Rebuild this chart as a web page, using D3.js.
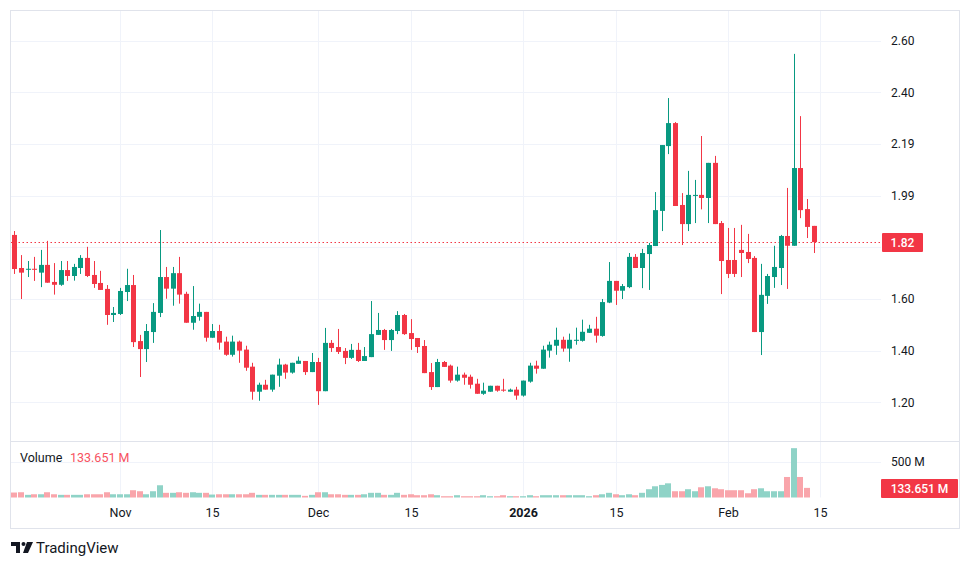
<!DOCTYPE html>
<html>
<head>
<meta charset="utf-8">
<script src="https://cdn.jsdelivr.net/npm/d3@7"></script>
<style>
  body { margin: 0; background: #ffffff; }
  svg { display: block; font-family: Roboto, "Liberation Sans", sans-serif; }
</style>
</head>
<body>
<div id="chart"></div>
<script>
// Daily candles, Oct 16 2025 .. Feb 14 2026
const firstDay = "2025-10-16";
const lastDay = "2026-02-14";

const opens = [1.848,1.720,1.713,1.717,1.702,1.732,1.666,1.655,1.712,1.689,1.720,1.759,1.693,1.662,1.639,1.538,1.542,1.627,1.654,1.437,
  1.406,1.472,1.546,1.685,1.640,1.700,1.620,1.508,1.531,1.550,1.450,1.476,1.435,1.384,1.435,1.404,1.338,1.241,1.268,1.249,
  1.303,1.346,1.315,1.349,1.360,1.317,1.356,1.243,1.430,1.414,1.399,1.372,1.403,1.360,1.375,1.461,1.480,1.441,1.476,1.538,
  1.468,1.449,1.418,1.317,1.259,1.356,1.342,1.284,1.307,1.299,1.272,1.233,1.241,1.264,1.249,1.241,1.249,1.226,1.280,1.342,
  1.330,1.400,1.419,1.442,1.408,1.438,1.438,1.469,1.485,1.457,1.586,1.670,1.632,1.646,1.763,1.720,1.774,1.805,1.941,2.192,
  2.281,1.964,1.890,1.999,2.003,1.991,2.127,1.894,1.751,1.751,1.790,1.782,1.759,1.472,1.612,1.685,1.720,1.844,1.806,2.107,
  1.948,1.883];
const highs = [1.863,1.770,1.747,1.763,1.790,1.825,1.739,1.747,1.747,1.736,1.770,1.802,1.747,1.709,1.654,1.569,1.643,1.717,1.693,1.461,
  1.503,1.584,1.867,1.724,1.724,1.763,1.628,1.650,1.582,1.550,1.503,1.500,1.454,1.458,1.439,1.419,1.353,1.276,1.287,1.307,
  1.369,1.349,1.353,1.377,1.360,1.391,1.372,1.488,1.441,1.484,1.410,1.426,1.430,1.414,1.592,1.546,1.484,1.484,1.553,1.542,
  1.522,1.449,1.441,1.352,1.368,1.360,1.346,1.338,1.315,1.307,1.291,1.276,1.264,1.264,1.291,1.253,1.260,1.284,1.353,1.361,
  1.419,1.435,1.489,1.454,1.466,1.489,1.520,1.500,1.531,1.600,1.743,1.670,1.658,1.778,1.774,1.794,1.817,2.014,2.196,2.378,
  2.285,2.010,2.096,2.061,2.231,2.127,2.154,1.902,1.875,1.875,1.887,1.852,1.766,1.736,1.697,1.806,1.848,2.030,2.549,2.308,
  1.987,1.883];
const lows = [1.697,1.600,1.685,1.670,1.646,1.663,1.617,1.651,1.670,1.671,1.697,1.685,1.643,1.635,1.500,1.511,1.538,1.592,1.414,1.298,
  1.356,1.430,1.530,1.601,1.574,1.582,1.508,1.481,1.516,1.435,1.450,1.404,1.380,1.377,1.353,1.322,1.210,1.206,1.249,1.241,
  1.260,1.291,1.311,1.349,1.306,1.317,1.190,1.243,1.395,1.387,1.348,1.368,1.356,1.360,1.375,1.461,1.403,1.399,1.464,1.461,
  1.403,1.391,1.313,1.248,1.259,1.337,1.276,1.280,1.268,1.253,1.233,1.229,1.241,1.241,1.241,1.241,1.210,1.222,1.276,1.311,
  1.330,1.373,1.384,1.396,1.357,1.423,1.435,1.469,1.431,1.454,1.584,1.577,1.600,1.642,1.720,1.642,1.635,1.805,1.863,2.161,
  1.960,1.809,1.863,1.894,1.947,1.894,1.890,1.619,1.681,1.685,1.685,1.739,1.472,1.383,1.581,1.643,1.654,1.639,1.806,1.913,
  1.836,1.778];
const closes = [1.716,1.702,1.717,1.713,1.732,1.663,1.655,1.712,1.689,1.724,1.759,1.689,1.658,1.635,1.538,1.546,1.631,1.654,1.433,1.406,
  1.476,1.550,1.685,1.640,1.700,1.617,1.508,1.534,1.550,1.450,1.476,1.431,1.384,1.435,1.400,1.334,1.241,1.268,1.249,1.307,
  1.346,1.315,1.353,1.361,1.317,1.356,1.243,1.430,1.410,1.395,1.372,1.403,1.360,1.379,1.464,1.480,1.441,1.480,1.538,1.464,
  1.445,1.414,1.313,1.259,1.356,1.337,1.284,1.307,1.295,1.268,1.233,1.245,1.264,1.245,1.245,1.249,1.226,1.284,1.342,1.330,
  1.404,1.423,1.442,1.408,1.442,1.442,1.473,1.485,1.458,1.588,1.670,1.632,1.650,1.763,1.720,1.778,1.809,1.944,2.196,2.281,
  1.960,1.890,2.003,2.003,1.991,2.127,1.890,1.747,1.697,1.697,1.778,1.755,1.472,1.616,1.689,1.724,1.844,1.806,2.107,1.944,
  1.879,1.820];
// volume in millions (last day has no bar)
const volumes = [69,73,37,45,45,73,45,37,37,37,37,45,45,45,73,45,45,45,101,87,
  45,87,170,65,65,73,65,73,65,65,41,45,45,45,45,45,65,37,37,37,
  37,37,37,37,23,37,73,73,45,45,37,37,37,45,65,65,37,37,65,37,
  45,32,32,45,32,18,18,32,18,18,18,32,18,18,32,18,18,18,32,18,
  32,32,32,32,32,32,32,18,32,45,65,45,32,45,32,65,115,156,175,197,
  87,87,115,87,142,156,128,115,101,101,101,59,115,128,87,87,87,285,685,285,
  133.651,null];

const priceTicks = [1.2, 1.4, 1.6, 1.8, 2.0, 2.2, 2.4, 2.6];
const priceTickLabels = ["1.20", "1.40", "1.60", "1.80", "1.99", "2.19", "2.40", "2.60"];
const volumeTicks = [500];
const volumeTickLabels = ["500 M"];
const timeTicks = ["2025-11-01", "2025-11-15", "2025-12-01", "2025-12-15", "2026-01-01", "2026-01-15", "2026-02-01", "2026-02-15"];
const timeTickLabels = ["Nov", "15", "Dec", "15", "2026", "15", "Feb", "15"];
const lastPrice = 1.82;
const lastPriceLabel = "1.82";
const lastVolume = 133.651;
const lastVolumeLabel = "133.651 M";

// layout
const W = 970, H = 568;
const frame = { left: 10.5, top: 10.5, right: 959.5, bottom: 528.5 };
const plotRight = 881;
const paneSplit = 441;
const volBottom = 497.5;

const up = "#089981", down = "#f23645";
const upVol = "#8fd3c7", downVol = "#f9a5ab";
const grid = "#f0f3fa", border = "#e0e3eb", txt = "#131722";

const parse = d3.utcParse("%Y-%m-%d");
const days = d3.utcDay.range(parse(firstDay), d3.utcDay.offset(parse(lastDay), 1));
const data = days.map((d, i) => ({
  date: d, o: opens[i], h: highs[i], l: lows[i], c: closes[i], v: volumes[i]
}));

const x = d3.scaleUtc()
  .domain([parse(firstDay), parse(lastDay)])
  .range([14.3, 813.7]);
const y = d3.scaleLinear().domain([1.2, 2.6]).range([402.3, 40.7]);
const yVol = d3.scaleLinear().domain([0, 500]).range([volBottom, 461.5]);

const svg = d3.select("#chart").append("svg")
  .attr("width", W).attr("height", H);

svg.append("rect").attr("width", W).attr("height", H).attr("fill", "#ffffff");

// vertical grid through both panes
svg.append("g").selectAll("line")
  .data(timeTicks)
  .join("line")
  .attr("x1", d => Math.round(x(parse(d))) + 0.5)
  .attr("x2", d => Math.round(x(parse(d))) + 0.5)
  .attr("y1", frame.top).attr("y2", volBottom)
  .attr("stroke", grid);

// horizontal price grid
svg.append("g").selectAll("line")
  .data(priceTicks)
  .join("line")
  .attr("x1", frame.left).attr("x2", plotRight)
  .attr("y1", d => Math.round(y(d)) + 0.5)
  .attr("y2", d => Math.round(y(d)) + 0.5)
  .attr("stroke", grid);

// volume grid
svg.append("g").selectAll("line")
  .data(volumeTicks)
  .join("line")
  .attr("x1", frame.left).attr("x2", plotRight)
  .attr("y1", d => Math.round(yVol(d)) + 0.5)
  .attr("y2", d => Math.round(yVol(d)) + 0.5)
  .attr("stroke", grid);

// volume bars
svg.append("g").selectAll("rect")
  .data(data.filter(d => d.v != null))
  .join("rect")
  .attr("x", d => Math.round(x(d.date)) - 3)
  .attr("width", 6)
  .attr("y", d => yVol(d.v))
  .attr("height", d => volBottom - yVol(d.v))
  .attr("fill", d => d.c >= d.o ? upVol : downVol);

// last price dotted line
svg.append("line")
  .attr("x1", frame.left).attr("x2", plotRight)
  .attr("y1", Math.round(y(lastPrice)) + 0.5)
  .attr("y2", Math.round(y(lastPrice)) + 0.5)
  .attr("stroke", down)
  .attr("stroke-dasharray", "1.5,2.5");

// candles
const candles = svg.append("g").selectAll("g")
  .data(data)
  .join("g")
  .attr("fill", d => d.c >= d.o ? up : down);

candles.append("rect")
  .attr("x", d => Math.round(x(d.date)))
  .attr("width", 1)
  .attr("y", d => y(d.h))
  .attr("height", d => Math.max(1, y(d.l) - y(d.h)));

candles.append("rect")
  .attr("x", d => Math.round(x(d.date)) - 2)
  .attr("width", 5)
  .attr("y", d => y(Math.max(d.o, d.c)))
  .attr("height", d => Math.max(1, Math.abs(y(d.o) - y(d.c))));

// pane separator + frame
svg.append("line")
  .attr("x1", frame.left).attr("x2", frame.right)
  .attr("y1", paneSplit + 0.5).attr("y2", paneSplit + 0.5)
  .attr("stroke", border);
svg.append("rect")
  .attr("x", frame.left).attr("y", frame.top)
  .attr("width", frame.right - frame.left)
  .attr("height", frame.bottom - frame.top)
  .attr("fill", "none")
  .attr("stroke", border);

// price axis labels (hide the one under the last-price label)
const lastY = y(lastPrice);
svg.append("g").selectAll("text")
  .data(priceTicks.map((v, i) => ({ v, label: priceTickLabels[i] }))
    .filter(d => Math.abs(y(d.v) - lastY) > 12))
  .join("text")
  .attr("x", 891)
  .attr("y", d => y(d.v))
  .attr("dy", "0.35em")
  .attr("font-size", 12)
  .attr("fill", txt)
  .text(d => d.label);

svg.append("rect")
  .attr("x", 882).attr("y", Math.round(lastY) - 9)
  .attr("width", 41).attr("height", 19)
  .attr("rx", 1)
  .attr("fill", down);
svg.append("text")
  .attr("x", 902.5).attr("y", lastY + 0.5)
  .attr("dy", "0.35em")
  .attr("text-anchor", "middle")
  .attr("font-size", 12)
  .attr("font-weight", 500)
  .attr("fill", "#ffffff")
  .text(lastPriceLabel);

// volume axis
svg.append("g").selectAll("text")
  .data(volumeTicks)
  .join("text")
  .attr("x", 891)
  .attr("y", d => yVol(d))
  .attr("dy", "0.35em")
  .attr("font-size", 12)
  .attr("fill", txt)
  .text((d, i) => volumeTickLabels[i]);

const lastVolY = yVol(lastVolume);
svg.append("rect")
  .attr("x", 881).attr("y", Math.round(lastVolY) - 9)
  .attr("width", 77).attr("height", 19)
  .attr("rx", 1)
  .attr("fill", down);
svg.append("text")
  .attr("x", 919.5).attr("y", lastVolY + 0.5)
  .attr("dy", "0.35em")
  .attr("text-anchor", "middle")
  .attr("font-size", 12)
  .attr("font-weight", 500)
  .attr("fill", "#ffffff")
  .text(lastVolumeLabel);

// volume legend
svg.append("text")
  .attr("x", 20).attr("y", 458).attr("dy", "0.35em")
  .attr("font-size", 12.5).attr("fill", txt)
  .text("Volume");
svg.append("text")
  .attr("x", 70).attr("y", 458).attr("dy", "0.35em")
  .attr("font-size", 12.5).attr("fill", "#f7525f")
  .text(lastVolumeLabel);

// time axis
svg.append("g").selectAll("text")
  .data(timeTicks)
  .join("text")
  .attr("x", d => Math.round(x(parse(d))) + 0.5)
  .attr("y", 513)
  .attr("dy", "0.35em")
  .attr("text-anchor", "middle")
  .attr("font-size", 12.5)
  .attr("font-weight", (d, i) => timeTickLabels[i] === "2026" ? 700 : 400)
  .attr("fill", txt)
  .text((d, i) => timeTickLabels[i]);

// TradingView mark
const logo = svg.append("g").attr("fill", txt);
logo.append("path").attr("d", "M11 542 H20 V553 H16 V546 H11 Z");
logo.append("circle").attr("cx", 23.5).attr("cy", 544).attr("r", 2);
logo.append("path").attr("d", "M27 542 H33 L28 553 H23 Z");
svg.append("text")
  .attr("x", 36).attr("y", 548).attr("dy", "0.35em")
  .attr("font-size", 15).attr("fill", txt)
  .text("TradingView");
</script>
</body>
</html>
